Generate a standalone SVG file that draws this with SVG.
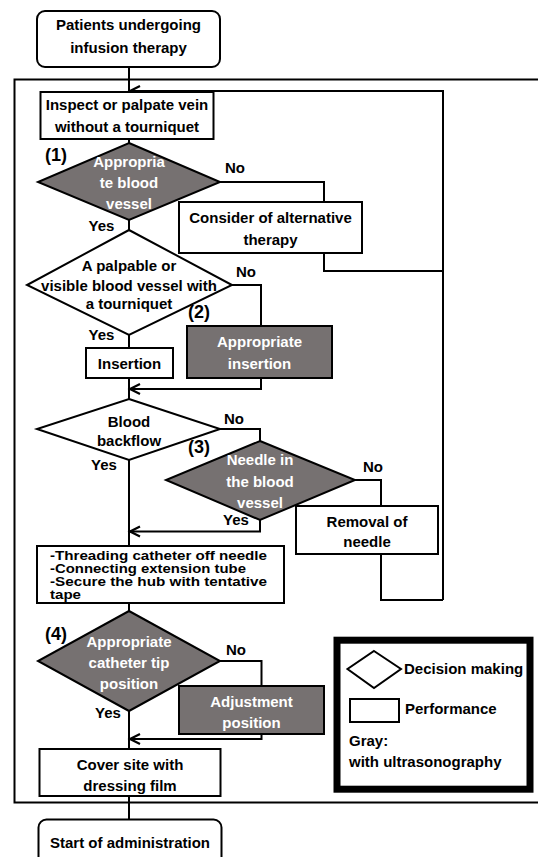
<svg xmlns="http://www.w3.org/2000/svg" width="538" height="857" viewBox="0 0 538 857">
<style>
  .box{fill:#fff;stroke:#000;stroke-width:2}
  .gray{fill:#767171;stroke:#000;stroke-width:2}
  .ln{fill:none;stroke:#000;stroke-width:2}
  .ah{fill:none;stroke:#000;stroke-width:2.2}
  text{font-family:"Liberation Sans",Arial,sans-serif;font-weight:bold;font-size:15px;fill:#000}
  .c{text-anchor:middle}
  .w{fill:#fff}
  .num{font-size:18px}
  .sm{font-size:12.5px}
</style>
<rect x="0" y="0" width="538" height="857" fill="#fff"/>
<rect id="frame" x="14.5" y="79.5" width="600" height="723" class="ln"/>
<g id="connectors">
  <line x1="129" y1="67" x2="129" y2="92" class="ln"/>
  <path d="M443,600 L443,91 L130,91" class="ln"/>
  <path d="M140,86 L130,91 L140,96" class="ah"/>
  <line x1="129" y1="139" x2="129" y2="143" class="ln"/>
  <path d="M220,182 L324,182 L324,202" class="ln"/>
  <path d="M324,253 L324,271 L443,271" class="ln"/>
  <line x1="129" y1="220" x2="129" y2="230" class="ln"/>
  <path d="M232,285 L261,285 L261,326" class="ln"/>
  <line x1="129" y1="335" x2="129" y2="348" class="ln"/>
  <line x1="129" y1="378" x2="129" y2="399" class="ln"/>
  <path d="M261,378 L261,389 L130,389" class="ln"/>
  <path d="M140,384 L130,389 L140,394" class="ah"/>
  <path d="M220,429 L260,429 L260,441" class="ln"/>
  <path d="M355,480 L381,480 L381,506" class="ln"/>
  <path d="M381,554 L381,600 L443,600" class="ln"/>
  <path d="M260,520 L260,531.5 L130,531.5" class="ln"/>
  <path d="M140,526.5 L130,531.5 L140,536.5" class="ah"/>
  <line x1="129" y1="460" x2="129" y2="546" class="ln"/>
  <line x1="129" y1="603" x2="129" y2="611" class="ln"/>
  <path d="M220,661 L261.5,661 L261.5,686" class="ln"/>
  <path d="M261.5,734 L261.5,739 L130,739" class="ln"/>
  <path d="M140,734 L130,739 L140,744" class="ah"/>
  <line x1="129" y1="711" x2="129" y2="749" class="ln"/>
  <line x1="129" y1="796" x2="129" y2="819.5" class="ln"/>
</g>
<g id="start">
  <rect x="37" y="11" width="183" height="56" rx="8" class="box"/>
  <text x="128.5" y="30" class="c">Patients undergoing</text>
  <text x="128.5" y="52.5" class="c">infusion therapy</text>
</g>
<g id="inspect">
  <rect x="40.5" y="92" width="173" height="47" class="box"/>
  <text x="127" y="110" class="c">Inspect or palpate vein</text>
  <text x="127" y="132" class="c">without a tourniquet</text>
</g>
<g id="d1">
  <polygon points="129,143 220,182 129,220 38,182" class="gray"/>
  <text x="129" y="166.5" class="c w">Appropria</text>
  <text x="129" y="188" class="c w">te blood</text>
  <text x="129" y="208.5" class="c w">vessel</text>
  <text x="45" y="161" class="num">(1)</text>
  <text x="225" y="173">No</text>
  <text x="88.5" y="231">Yes</text>
</g>
<g id="alt">
  <rect x="179" y="202" width="183" height="51" class="box"/>
  <text x="270.5" y="222.5" class="c">Consider of alternative</text>
  <text x="270.5" y="245" class="c">therapy</text>
</g>
<g id="d2">
  <polygon points="129,230 232,285 129,335 27,285" class="box"/>
  <text x="129" y="271" class="c">A palpable or</text>
  <text x="129" y="290.5" class="c">visible blood vessel with</text>
  <text x="129" y="309" class="c">a tourniquet</text>
  <text x="236" y="277">No</text>
  <text x="88.5" y="340">Yes</text>
  <text x="188" y="318" class="num">(2)</text>
</g>
<g id="insertion">
  <rect x="86" y="348" width="87" height="30" class="box"/>
  <text x="129.5" y="368.5" class="c">Insertion</text>
</g>
<g id="appins">
  <rect x="187" y="326" width="145" height="52" class="gray"/>
  <text x="259.5" y="347" class="c w">Appropriate</text>
  <text x="259.5" y="368.5" class="c w">insertion</text>
</g>
<g id="d3">
  <polygon points="129,399 220,429 129,460 37,429" class="box"/>
  <text x="129" y="427" class="c">Blood</text>
  <text x="129" y="445.5" class="c">backflow</text>
  <text x="224" y="424">No</text>
  <text x="91" y="469.5">Yes</text>
  <text x="188" y="453" class="num">(3)</text>
</g>
<g id="d4">
  <polygon points="260,441 355,480 260,520 166,480" class="gray"/>
  <text x="260" y="465" class="c w">Needle in</text>
  <text x="260" y="486.5" class="c w">the blood</text>
  <text x="260" y="508" class="c w">vessel</text>
  <text x="363" y="471.5">No</text>
  <text x="223" y="525">Yes</text>
</g>
<g id="removal">
  <rect x="296" y="506" width="142" height="48" class="box"/>
  <text x="367" y="526.5" class="c">Removal of</text>
  <text x="367" y="547" class="c">needle</text>
</g>
<g id="threading">
  <rect x="37" y="546" width="247" height="57" class="box"/>
  <text x="50" y="559.5" class="sm" textLength="217" lengthAdjust="spacingAndGlyphs">-Threading catheter off needle</text>
  <text x="50" y="572.8" class="sm" textLength="196" lengthAdjust="spacingAndGlyphs">-Connecting extension tube</text>
  <text x="50" y="586.1" class="sm" textLength="217" lengthAdjust="spacingAndGlyphs">-Secure the hub with tentative</text>
  <text x="50" y="599.4" class="sm" textLength="31" lengthAdjust="spacingAndGlyphs">tape</text>
</g>
<g id="d5">
  <polygon points="129,611 220,661 129,711 38,661" class="gray"/>
  <text x="129" y="647" class="c w">Appropriate</text>
  <text x="129" y="668" class="c w">catheter tip</text>
  <text x="129" y="689" class="c w">position</text>
  <text x="45" y="640" class="num">(4)</text>
  <text x="226" y="655">No</text>
  <text x="95" y="718">Yes</text>
</g>
<g id="adjust">
  <rect x="179" y="686" width="145" height="48" class="gray"/>
  <text x="251.5" y="707" class="c w">Adjustment</text>
  <text x="251.5" y="727.5" class="c w">position</text>
</g>
<g id="cover">
  <rect x="39.5" y="749" width="181" height="47" class="box"/>
  <text x="130" y="769.5" class="c">Cover site with</text>
  <text x="130" y="790.5" class="c">dressing film</text>
</g>
<g id="end">
  <rect x="38.5" y="819.5" width="183" height="52" rx="8" class="box"/>
  <text x="130" y="848" class="c">Start of administration</text>
</g>
<g id="legend">
  <rect x="337" y="640.2" width="193" height="149" fill="#fff" stroke="#000" stroke-width="7"/>
  <polygon points="374,651 401,669 374,688 347.5,669" class="box"/>
  <text x="404" y="674">Decision making</text>
  <rect x="350" y="699" width="49" height="23" class="box"/>
  <text x="405" y="714">Performance</text>
  <text x="349" y="746">Gray:</text>
  <text x="349" y="767">with ultrasonography</text>
</g>
</svg>
